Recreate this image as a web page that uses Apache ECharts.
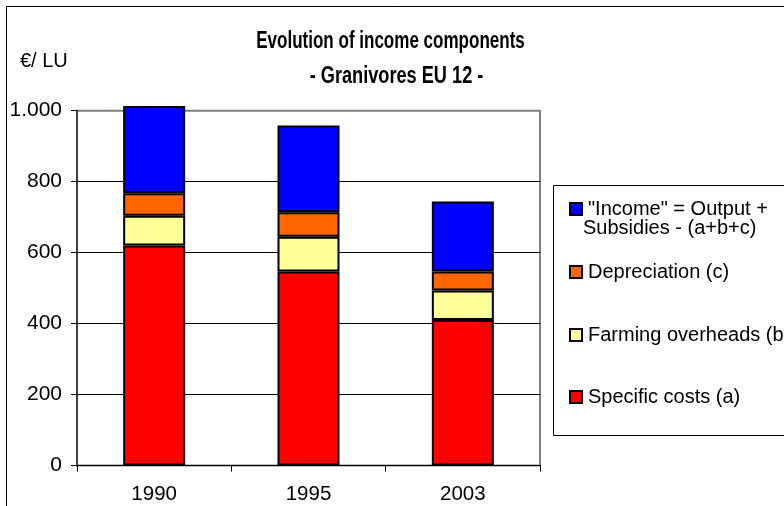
<!DOCTYPE html>
<html>
<head>
<meta charset="utf-8">
<script src="https://cdn.jsdelivr.net/npm/echarts@6/dist/echarts.min.js"></script>
<style>
  html, body { margin: 0; padding: 0; background: #fff; }
  #chart { width: 784px; height: 506px; }
</style>
</head>
<body>
<div id="chart"></div>
<script>
// Income components per livestock unit, granivore farms, EU 12
const years = ['1990', '1995', '2003'];
const specificCosts = [620, 547, 410];
const farmingOverheads = [84, 98, 83];
const depreciation = [63, 69, 54];
const income = [246, 244, 197];
const yTicks = [0, 200, 400, 600, 800, 1000];

const seriesNames = [
  'Specific costs (a)',
  'Farming overheads (b)',
  'Depreciation (c)',
  '"Income" = Output + Subsidies - (a+b+c)'
];
const seriesColors = ['#FF0000', '#FFFF99', '#FF6600', '#0000FF'];
const seriesValues = [specificCosts, farmingOverheads, depreciation, income];

const FONT = '"Liberation Sans", Arial, sans-serif';

const chart = echarts.init(document.getElementById('chart'), null, { renderer: 'canvas' });

// one legend block per entry so each row sits at its own height
const legendRows = [
  { name: seriesNames[3], top: 194, label: '"Income" = Output +' },
  { name: seriesNames[2], top: 257 },
  { name: seriesNames[1], top: 320 },
  { name: seriesNames[0], top: 382 }
];

const option = {
  animation: false,
  backgroundColor: '#fff',
  legend: legendRows.map(r => ({
    data: [r.name],
    left: 564,
    top: r.top,
    itemWidth: 12,
    itemHeight: 12,
    itemGap: 0,
    icon: 'rect',
    selectedMode: false,
    formatter: r.label ? () => r.label : undefined,
    textStyle: { fontFamily: FONT, fontSize: 20, lineHeight: 20, color: '#000', padding: [0, 0, 0, 1] }
  })),
  grid: {
    left: 77,
    right: 244,
    top: 110.7,
    bottom: 40.5,
    show: true,
    borderColor: '#808080',
    borderWidth: 2,
    backgroundColor: 'transparent'
  },
  xAxis: {
    type: 'category',
    data: years,
    boundaryGap: true,
    axisLine: { lineStyle: { color: '#000', width: 1 } },
    axisTick: { show: true, alignWithLabel: false, length: 6, lineStyle: { color: '#000' } },
    axisLabel: { fontFamily: FONT, fontSize: 20.5, color: '#000', margin: 18 }
  },
  yAxis: {
    type: 'value',
    min: 0,
    max: 1000,
    interval: 200,
    axisLine: { show: true, lineStyle: { color: '#404040', width: 2 } },
    axisTick: { show: true, length: 6, lineStyle: { color: '#000' } },
    axisLabel: {
      fontFamily: FONT,
      fontSize: 21,
      color: '#000',
      margin: 15,
      formatter: v => yTicks.includes(v) ? v.toLocaleString('de-DE') : ''
    },
    splitLine: {
      show: true,
      lineStyle: { color: ['#000', '#000', '#000', '#000', '#000', '#808080'], width: 1 }
    }
  },
  series: seriesNames.map((name, i) => ({
    name: name,
    type: 'bar',
    stack: 'total',
    barWidth: 62,
    clip: false,
    data: seriesValues[i],
    itemStyle: { color: seriesColors[i], borderColor: '#000', borderWidth: 2 },
    emphasis: { disabled: true }
  })),
  graphic: [
    {
      type: 'rect',
      silent: true,
      z: -1,
      shape: { x: 6.5, y: 6.5, width: 900, height: 600 },
      style: { fill: 'none', stroke: '#000', lineWidth: 1 }
    },
    {
      type: 'rect',
      silent: true,
      shape: { x: 553.5, y: 185.5, width: 300, height: 250 },
      style: { fill: 'none', stroke: '#000', lineWidth: 1 }
    },
    // chart title, set in a condensed bold face
    {
      type: 'text',
      silent: true,
      x: 390.5,
      y: 42,
      scaleX: 0.74,
      style: {
        text: 'Evolution of income components',
        font: 'bold 23px ' + FONT,
        fill: '#000',
        textAlign: 'center',
        textVerticalAlign: 'middle'
      }
    },
    {
      type: 'text',
      silent: true,
      x: 396.5,
      y: 77,
      scaleX: 0.79,
      style: {
        text: '- Granivores EU 12 -',
        font: 'bold 23px ' + FONT,
        fill: '#000',
        textAlign: 'center',
        textVerticalAlign: 'middle'
      }
    },
    {
      type: 'text',
      silent: true,
      left: 20,
      top: 51,
      style: { text: '€/ LU', font: '20px ' + FONT, fill: '#000' }
    },
    {
      type: 'text',
      silent: true,
      left: 583,
      top: 218,
      style: { text: 'Subsidies - (a+b+c)', font: '20px ' + FONT, fill: '#000' }
    }
  ]
};

chart.setOption(option);
</script>
</body>
</html>
